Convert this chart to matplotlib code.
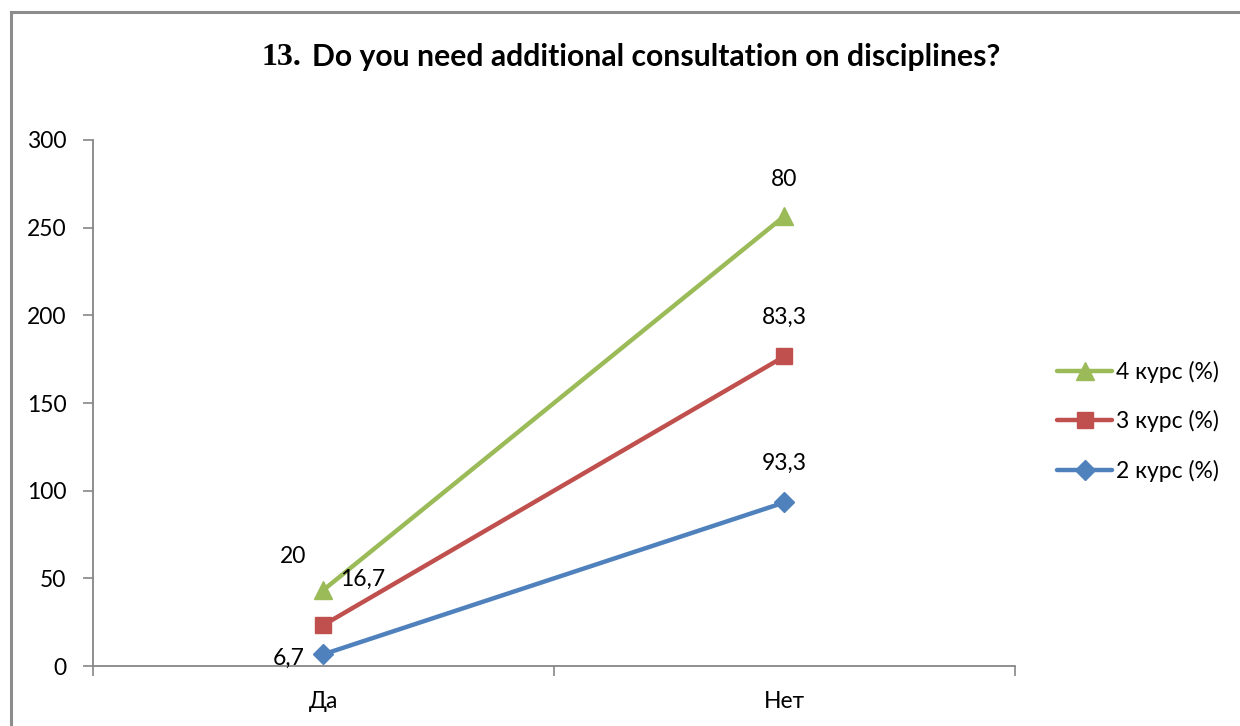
import numpy as np
import matplotlib
matplotlib.use('Agg')
import matplotlib.pyplot as plt
from matplotlib.lines import Line2D

plt.rcParams['font.family'] = ['Lato', 'DejaVu Sans']

categories = ['Да', 'Нет']
series_names = ['2 курс (%)', '3 курс (%)', '4 курс (%)']
values_2 = [6.7, 93.3]
values_3 = [16.7, 83.3]
values_4 = [20, 80]
yticks = [0, 50, 100, 150, 200, 250, 300]

colors = ['#4F81BD', '#C0504D', '#9BBB59']
markers = ['D', 's', '^']
msizes = [10, 12, 13]
fs = 16.5

# stacked line chart: each series sits on top of the previous ones
stack = np.cumsum(np.array([values_2, values_3, values_4]), axis=0)
raw = [values_2, values_3, values_4]
x = np.arange(len(categories)) + 0.5

fig = plt.figure(figsize=(12.4, 7.26), dpi=100)
ax = fig.add_axes([0.075, 0.0826, 0.7435, 0.7246])

for i in range(3):
    ax.plot(x, stack[i], color=colors[i], lw=3.2, marker=markers[i],
            markersize=msizes[i], solid_capstyle='round', zorder=3)

# data labels (offsets in points)
offsets = {
    (0, 0): (-25, -3), (0, 1): (0, 28),
    (1, 0): (28, 33), (1, 1): (0, 28),
    (2, 0): (-22, 24), (2, 1): (0, 26),
}
for i in range(3):
    for j in range(2):
        dx, dy = offsets[(i, j)]
        ax.annotate(str(raw[i][j]).replace('.', ','), (x[j], stack[i][j]),
                    xytext=(dx, dy), textcoords='offset points',
                    ha='center', va='center', fontsize=fs)

ax.set_xlim(0, 2)
ax.set_ylim(0, 300)
ax.set_yticks(yticks)
ax.set_xticks([0, 1, 2])
ax.set_xticklabels([])
ax.set_xticks(x, minor=True)
ax.set_xticklabels(categories, minor=True)
ax.tick_params(axis='x', which='minor', length=0, pad=18, labelsize=fs)
ax.tick_params(axis='x', which='major', length=7, width=1.2, color='#868686')
ax.tick_params(axis='y', length=7, width=1.2, color='#868686', pad=12, labelsize=fs)

for s in ['top', 'right']:
    ax.spines[s].set_visible(False)
for s in ['left', 'bottom']:
    ax.spines[s].set_color('#868686')
    ax.spines[s].set_linewidth(1.3)

# title: number in serif, question in sans
fig.text(0.211, 0.921, '13.', fontsize=23, fontweight='bold',
         family='Liberation Serif', ha='left', va='center')
fig.text(0.2515, 0.921, 'Do you need additional consultation on disciplines?',
         fontsize=21.7, fontweight='bold', ha='left', va='center')

handles = [Line2D([], [], color=colors[i], lw=3.2, marker=markers[i],
                  markersize=msizes[i], solid_capstyle='round')
           for i in range(3)][::-1]
fig.legend(handles, series_names[::-1], loc='center left',
           bbox_to_anchor=(0.836, 0.42), frameon=False, fontsize=fs,
           handlelength=2.4, handletextpad=0.15, labelspacing=1.2)

# outer chart frame
fig.add_artist(Line2D([0.009, 0.009], [0, 0.984], color='#8c8c8c', lw=2.2))
fig.add_artist(Line2D([0.009, 1], [0.984, 0.984], color='#8c8c8c', lw=2.2))

fig.savefig('out.png', dpi=100)
